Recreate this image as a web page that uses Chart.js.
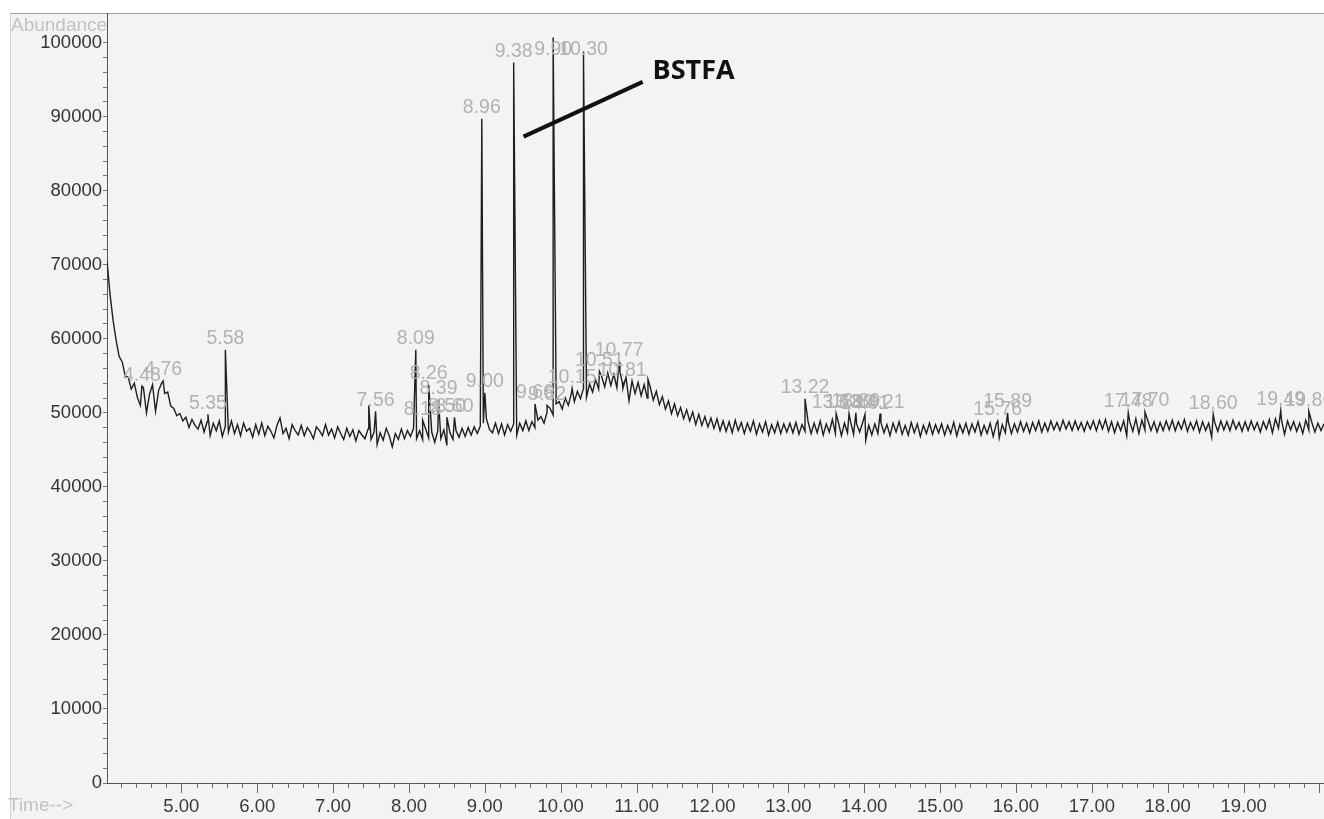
<!DOCTYPE html>
<html lang="en">
<head>
  <meta charset="UTF-8" />
  <title>Chromatogram - BSTFA</title>
  <script src="https://cdn.jsdelivr.net/npm/chart.js"></script>
  <style>
    body { margin: 0; background: #ffffff; }
    .quadro { position: relative; width: 1324px; height: 819px; }
    .fundo {
      position: absolute; left: 10px; top: 13px; right: 0; bottom: 0;
      background: #f3f3f3;
      border-top: 1px solid #9c9c9c;
      border-left: 1px solid #d2d2d2;
    }
    #grafico { position: absolute; left: 0; top: 0; }
  </style>
</head>
<body>
  <div class="quadro">
    <div class="fundo"></div>
    <canvas id="grafico" width="1324" height="819"></canvas>
  </div>

  <script>
    // scan settings (minutes)
    const scanStart = 4.02;
    const scanStep = 0.04;

    // baseline abundance for each scan, in thousands
    const baselineK = [
      70.5, 66.0, 62.5, 59.8, 57.6, 56.9, 55.0, 54.8, 53.2, 54.0, 52.1, 51.0, 53.4, 50.0, 52.5, 53.8, 50.2, 53.0, 54.0, 52.6, 52.8, 50.9, 50.6, 49.6, 49.9,
      48.9, 49.4, 48.0, 49.1, 48.3, 47.8, 49.0, 47.4, 48.8, 46.9, 48.6, 47.6, 48.9, 46.8, 48.2, 47.4, 48.9, 47.2, 48.4, 46.9, 48.6, 47.5, 47.9, 46.7, 48.4,
      47.1, 48.6, 46.9, 48.2, 47.5, 46.6, 48.3, 49.3, 47.2, 47.9, 46.5, 48.4, 47.6, 47.0, 48.3, 46.9, 48.0, 47.4, 46.5, 48.1, 47.6, 46.9, 48.4, 47.0, 47.8,
      46.6, 48.1, 47.2, 46.4, 47.9, 46.8, 47.7, 46.2, 47.6, 47.0, 46.5, 47.8, 46.4, 47.4, 45.7, 47.3, 46.3, 47.9, 46.9, 45.4, 47.2, 46.4, 47.8, 46.5, 47.6,
      46.8, 47.9, 46.5, 47.6, 46.4, 47.8, 46.6, 47.4, 46.0, 47.6, 46.5, 47.7, 45.6, 47.3, 46.4, 47.6, 46.7, 47.9, 46.8, 48.0, 47.0, 48.1, 47.2, 48.2, 48.6,
      49.2, 47.8, 47.3, 48.6, 47.2, 48.5, 47.0, 48.4, 47.5, 48.5, 47.0, 48.6, 47.6, 48.9, 47.6, 48.8, 48.0, 49.0, 49.5, 48.6, 50.1, 50.6, 49.7, 51.2, 51.5,
      50.5, 52.0, 51.0, 52.6, 51.5, 52.9, 51.9, 53.3, 52.1, 53.9, 52.8, 54.5, 53.2, 54.9, 53.5, 55.4, 53.7, 55.2, 53.4, 55.5, 53.3, 54.8, 51.6, 54.3, 52.6,
      54.1, 52.3, 53.8, 52.0, 53.5, 51.7, 52.9, 51.1, 52.2, 50.5, 51.6, 49.9, 51.2, 49.6, 50.7, 49.2, 50.4, 48.9, 50.1, 48.4, 49.8, 48.3, 49.5, 48.1, 49.3,
      47.9, 49.2, 47.6, 48.9, 47.5, 48.8, 47.3, 49.0, 47.6, 48.7, 47.2, 48.6, 47.5, 48.9, 47.1, 48.5, 47.4, 48.8, 47.0, 48.4, 47.3, 48.7, 47.2, 48.5, 47.4,
      48.6, 47.3, 48.7, 47.1, 48.4, 47.5, 48.8, 47.2, 48.6, 47.3, 48.9, 47.0, 48.5, 47.4, 49.1, 47.2, 48.7, 46.9, 48.6, 47.3, 48.8, 47.1, 48.5, 47.4, 48.7,
      46.3, 48.3, 47.0, 48.5, 47.2, 48.7, 47.3, 48.4, 46.9, 48.6, 47.4, 48.8, 47.1, 48.3, 47.0, 48.7, 47.3, 48.5, 46.8, 48.3, 47.2, 48.6, 47.1, 48.4, 47.3,
      48.5, 47.0, 48.3, 47.2, 48.7, 46.9, 48.4, 47.3, 48.6, 47.1, 48.5, 47.4, 48.8, 47.0, 48.3, 47.2, 48.6, 46.8, 48.5, 46.6, 48.4, 47.3, 48.7, 47.2, 48.5,
      47.4, 48.8, 47.5, 48.6, 47.3, 48.7, 47.6, 48.9, 47.4, 48.6, 47.5, 48.9, 47.7, 48.7, 47.6, 49.0, 47.8, 48.8, 47.6, 48.9, 47.7, 48.7, 47.5, 48.8, 47.8,
      48.9, 47.6, 49.0, 47.8, 49.1, 47.5, 48.8, 47.3, 48.7, 47.6, 48.9, 46.9, 48.8, 47.5, 49.2, 47.2, 49.0, 47.7, 48.9, 47.6, 48.8, 47.4, 48.7, 47.6, 48.9,
      47.7, 49.0, 47.6, 48.8, 47.8, 49.1, 47.5, 48.7, 47.7, 48.9, 47.4, 48.8, 47.6, 48.6, 46.7, 48.7, 47.5, 48.9, 47.7, 48.8, 47.6, 49.0, 47.8, 48.7, 47.5,
      48.8, 47.6, 48.9, 47.7, 48.7, 47.4, 48.8, 47.8, 49.1, 47.3, 49.2, 47.9, 49.0, 47.1, 48.9, 47.7, 48.8, 47.5, 48.6, 47.2, 49.0, 47.7, 48.7, 47.4, 48.6,
      47.6, 48.5
    ];

    // detected peaks: retention time, apex abundance (thousands), printed label
    const peakTimes   = [4.48, 4.76, 5.35, 5.58, 7.47, 7.56, 8.09, 8.18, 8.26, 8.39, 8.50, 8.60, 8.96, 9.00, 9.38, 9.66, 9.82, 9.90, 10.15, 10.30, 10.51, 10.77, 10.81, 11.15, 13.22, 13.63, 13.80, 13.89, 14.01, 14.21, 15.76, 15.89, 17.48, 17.70, 18.60, 19.49, 19.86];
    const peakHeightK = [53.6, 54.3, 49.8, 58.5, 51.0, 50.2, 58.5, 49.0, 53.8, 51.8, 49.4, 49.4, 89.7, 52.7, 97.3, 51.2, 51.0, 100.7, 53.3, 98.8, 55.6, 56.9, 54.2, 54.5, 51.9, 49.9, 49.9, 50.0, 49.8, 49.9, 48.9, 50.0, 50.0, 50.1, 49.8, 50.3, 50.2];
    const peakLabels  = ['4.48', '4.76', '5.35', '5.58', '', '7.56', '8.09', '8.18', '8.26', '8.39', '8.50', '8.60', '8.96', '9.00', '9.38', '9.66', '9.82', '9.90', '10.15', '10.30', '10.51', '10.77', '10.81', '', '13.22', '13.63', '13.80', '13.89', '14.01', '14.21', '15.76', '15.89', '17.48', '17.70', '18.60', '19.49', '19.86'];

    // BSTFA callout (time, abundance)
    const bstfaLineFrom = [9.51, 87300];
    const bstfaLineTo = [11.08, 94700];
    const bstfaText = [11.21, 96100];

    const pontos = baselineK.map((v, i) => ({ x: +(scanStart + i * scanStep).toFixed(2), y: v * 1000 }));
    peakTimes.forEach((t, i) => pontos.push({ x: t, y: peakHeightK[i] * 1000 }));
    pontos.sort((a, b) => a.x - b.x);

    const fonte = '"Liberation Sans", Arial, sans-serif';
    const ehInteiro = v => Math.abs(v - Math.round(v)) < 1e-6;

    // tick marks on time axis: long on whole minutes, short otherwise
    const marcasTempo = {
      id: 'marcasTempo',
      afterDraw(chart) {
        const sc = chart.scales.x;
        const ctx = chart.ctx;
        const base = chart.chartArea.bottom;
        ctx.save();
        ctx.strokeStyle = '#6a6a6a';
        ctx.lineWidth = 1;
        sc.ticks.forEach(t => {
          const px = Math.round(sc.getPixelForValue(t.value)) + 0.5;
          ctx.beginPath();
          ctx.moveTo(px, base);
          ctx.lineTo(px, base + (ehInteiro(t.value) ? 10 : 5));
          ctx.stroke();
        });
        ctx.restore();
      }
    };

    // peak labels and the text around the plot
    const textos = {
      id: 'textos',
      afterDatasetsDraw(chart) {
        const { ctx, scales: { x, y } } = chart;
        ctx.save();
        ctx.font = '19.5px ' + fonte;
        ctx.fillStyle = '#b2b2b2';
        ctx.textAlign = 'center';
        ctx.textBaseline = 'middle';
        peakTimes.forEach((t, i) => {
          if (!peakLabels[i]) return;
          const px = x.getPixelForValue(t);
          const py = Math.max(y.getPixelForValue(peakHeightK[i] * 1000) - 11, 50);
          ctx.fillText(peakLabels[i], px, py);
        });

        ctx.fillStyle = '#c2c2c2';
        ctx.textAlign = 'left';
        ctx.font = '19px ' + fonte;
        ctx.fillText('Abundance', 11, 26);
        ctx.fillText('Time-->', 8, 806);

        // BSTFA callout
        ctx.strokeStyle = '#111';
        ctx.lineWidth = 4;
        ctx.beginPath();
        ctx.moveTo(x.getPixelForValue(bstfaLineFrom[0]), y.getPixelForValue(bstfaLineFrom[1]));
        ctx.lineTo(x.getPixelForValue(bstfaLineTo[0]), y.getPixelForValue(bstfaLineTo[1]));
        ctx.stroke();
        ctx.fillStyle = '#111';
        ctx.font = 'bold 27px "Open Sans", sans-serif';
        ctx.fillText('BSTFA', x.getPixelForValue(bstfaText[0]), y.getPixelForValue(bstfaText[1]));
        ctx.restore();
      }
    };

    const ctx = document.getElementById('grafico').getContext('2d');
    const grafico = new Chart(ctx, {
      type: 'line',
      data: {
        datasets: [{
          label: 'TIC',
          data: pontos,
          borderColor: '#1e1e1e',
          borderWidth: 1.4,
          pointRadius: 0,
          tension: 0
        }]
      },
      options: {
        responsive: false,
        animation: false,
        layout: { padding: { top: 13, right: 0, left: 0, bottom: 0 } },
        plugins: {
          legend: { display: false },
          tooltip: { enabled: false }
        },
        scales: {
          x: {
            type: 'linear',
            min: 4.02,
            max: 20.06,
            afterFit: s => { s.height = 36; s.paddingRight = 0; },
            border: { display: true, color: '#555', width: 1 },
            grid: { drawOnChartArea: false, drawTicks: true, tickLength: 13, tickColor: 'rgba(0,0,0,0)' },
            ticks: {
              stepSize: 0.2,
              includeBounds: false,
              autoSkip: false,
              maxRotation: 0,
              minRotation: 0,
              padding: 0,
              color: '#3a3a3a',
              font: { family: fonte, size: 18.5 },
              callback: v => (ehInteiro(v) && v >= 5 && v <= 19.5) ? v.toFixed(2) : ''
            }
          },
          y: {
            min: 0,
            max: 104000,
            afterFit: s => { s.width = 107; },
            border: { display: true, color: '#555', width: 1 },
            grid: {
              drawOnChartArea: false,
              drawTicks: true,
              tickLength: 4,
              tickColor: c => (c.tick && c.tick.value > 100000) ? 'rgba(0,0,0,0)' : '#777'
            },
            ticks: {
              stepSize: 2000,
              includeBounds: false,
              autoSkip: false,
              padding: 1,
              color: '#333',
              font: { family: fonte, size: 18.5 },
              callback: v => (Math.round(v) % 10000 === 0 && v <= 100000) ? String(Math.round(v)) : ''
            }
          }
        }
      },
      plugins: [marcasTempo, textos]
    });
  </script>
</body>
</html>
